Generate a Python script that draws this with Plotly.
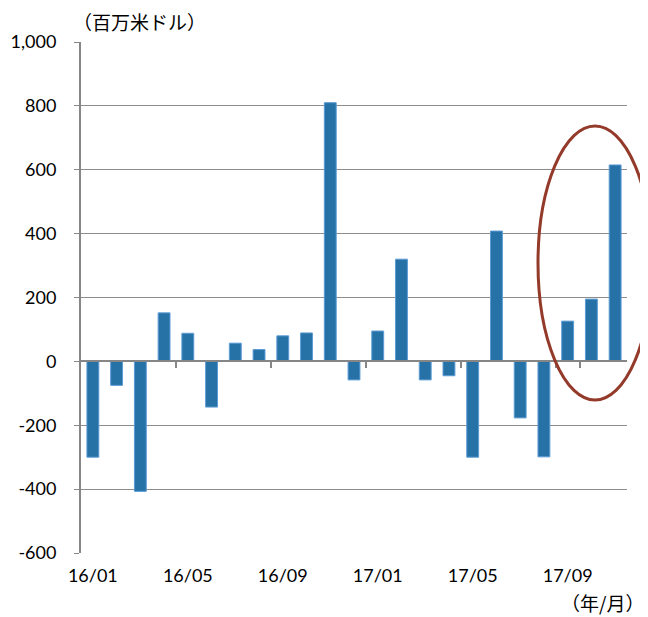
import plotly.graph_objects as go

months = ["16/01","16/02","16/03","16/04","16/05","16/06","16/07","16/08","16/09","16/10","16/11","16/12",
          "17/01","17/02","17/03","17/04","17/05","17/06","17/07","17/08","17/09","17/10","17/11"]
values = [-300, -75, -407, 152, 88, -143, 57, 37, 80, 89, 810, -58,
          95, 320, -58, -45, -300, 408, -177, -299, 126, 195, 615]
y_ticks = [-600, -400, -200, 0, 200, 400, 600, 800, 1000]
y_tick_labels = ["-600", "-400", "-200", "0", "200", "400", "600", "800", "1,000"]
x_tick_labels = ["16/01", "16/05", "16/09", "17/01", "17/05", "17/09"]
boundary_ticks = ["16/05", "16/09", "17/01", "17/05", "17/09"]

# the page body adds an 8px offset, so the figure is sized to the visible area
W, H = 640, 609
L, R, T, B = 73, 21, 34, 64
PW, PH = W - L - R, H - T - B
ymin, ymax = -600, 1000
zero_pos = (0 - ymin) / (ymax - ymin)


def px(sx):  # screen x -> paper x
    return (sx - 8 - L) / PW


def py(sy):  # screen y -> paper y
    return (H - B - (sy - 8)) / PH


fig = go.Figure()
fig.add_trace(go.Bar(
    x=months, y=values, width=0.5,
    marker=dict(color="#2672A6", line=dict(color="#5B9BD5", width=1)),
    xaxis="x", yaxis="y", showlegend=False,
))
fig.add_trace(go.Bar(x=months, y=[None] * len(months), xaxis="x2", yaxis="y",
                     showlegend=False, hoverinfo="skip"))

font_num = dict(family="Lato, 'Noto Sans CJK JP', sans-serif", size=18, color="#000000")
font_jp = dict(family="'Noto Sans CJK JP', sans-serif", size=19, color="#000000")

fig.update_layout(
    width=W, height=H,
    margin=dict(l=L, r=R, t=T, b=B, autoexpand=False),
    plot_bgcolor="white", paper_bgcolor="white",
    font=font_num,
    xaxis=dict(
        type="category", categoryorder="array", categoryarray=months,
        tickmode="array", tickvals=x_tick_labels, ticktext=x_tick_labels,
        showline=False, showgrid=False, zeroline=False, ticks="",
        ticklabelstandoff=10, tickfont=font_num, automargin=False,
        range=[-0.5, len(months) - 0.5],
    ),
    xaxis2=dict(
        type="category", categoryorder="array", categoryarray=months,
        overlaying="x", anchor="free", position=zero_pos, matches="x",
        showline=True, linecolor="#868686", linewidth=2,
        ticks="outside", tickson="boundaries", ticklen=6, tickcolor="#868686", tickwidth=2,
        tickmode="array", tickvals=boundary_ticks,
        showticklabels=False, showgrid=False, zeroline=False, automargin=False,
    ),
    yaxis=dict(
        range=[ymin, ymax], tickmode="array", tickvals=y_ticks, ticktext=y_tick_labels,
        showgrid=True, gridcolor="#8C8C8C", gridwidth=1,
        showline=True, linecolor="#868686", linewidth=2,
        ticks="outside", ticklen=5, tickcolor="#868686",
        zeroline=False, ticklabelstandoff=14, tickfont=font_num, automargin=False,
    ),
    annotations=[
        dict(text="（百万米ドル）", xref="paper", yref="paper",
             x=px(72), y=py(21), xanchor="left", yanchor="middle",
             showarrow=False, font=font_jp, borderpad=0),
        dict(text="（年/月）", xref="paper", yref="paper",
             x=px(645), y=py(603), xanchor="right", yanchor="middle",
             showarrow=False, font=font_jp, borderpad=0),
    ],
    shapes=[
        dict(type="circle", xref="paper", yref="paper",
             x0=px(538), x1=px(652), y0=py(400), y1=py(126),
             line=dict(color="#943A2A", width=3), layer="above"),
    ],
)

fig.write_html("out.html")
